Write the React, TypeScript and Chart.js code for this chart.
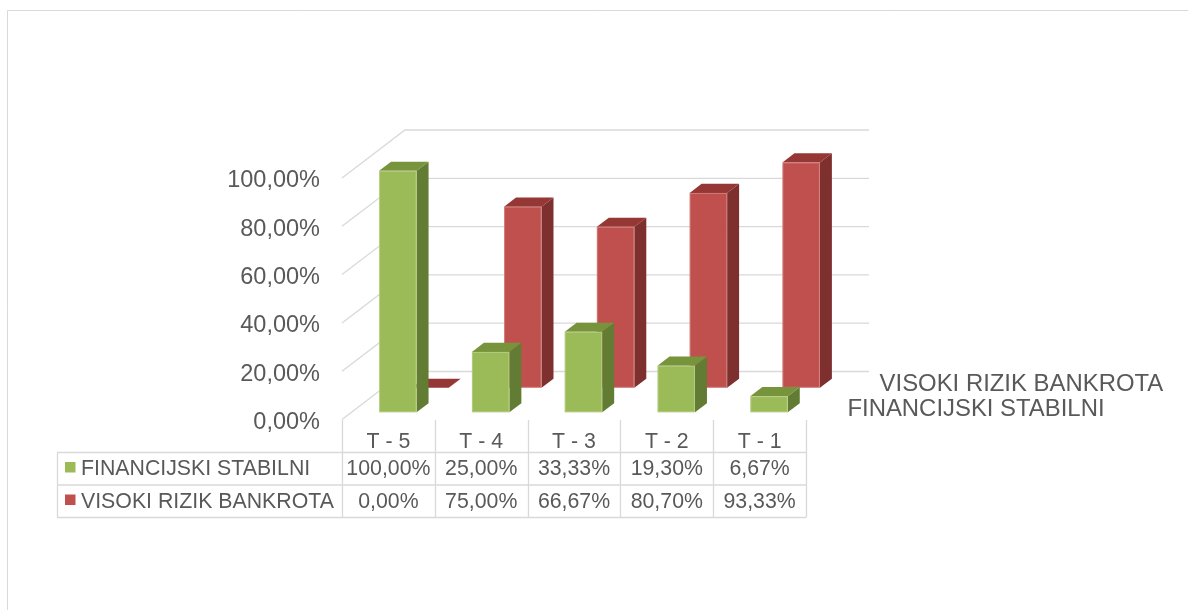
import React, { useEffect, useRef } from 'react';
import { Chart, registerables } from 'chart.js';

Chart.register(...registerables);

// ---- data ----
const categories = ['T - 5', 'T - 4', 'T - 3', 'T - 2', 'T - 1'];
const financijskiStabilni = [100, 25, 33.33, 19.3, 6.67];
const visokiRizikBankrota = [0, 75, 66.67, 80.7, 93.33];
const seriesNames = ['FINANCIJSKI STABILNI', 'VISOKI RIZIK BANKROTA'];
const yTickValues = [0, 20, 40, 60, 80, 100];

const FONT = "'Liberation Sans', Arial, sans-serif";
const TEXT = '#595959';
const GRID = '#d9d9d9';

const fmt = (v: number) => v.toFixed(2).replace('.', ',') + '%';

// 3D look
const DEPTH_X = 63;
const DEPTH_Y = -48;
const SERIES_DEPTH = [0.15, 0.66]; // front-face depth fraction per series
const BAR_DEPTH = 0.19;
const BAR_WIDTH_RATIO = 0.404;

const COLORS = [
  { front: '#9bbb59', top: '#77933c', side: '#637c33', key: '#9bbb59' },
  { front: '#c0504d', top: '#953735', side: '#7d302e', key: '#c0504d' },
];

function drawBar(ctx: CanvasRenderingContext2D, x0: number, x1: number, yTop: number, yBase: number, bdx: number, bdy: number, c: any) {
  ctx.fillStyle = c.side;
  ctx.beginPath();
  ctx.moveTo(x1, yTop);
  ctx.lineTo(x1 + bdx, yTop + bdy);
  ctx.lineTo(x1 + bdx, yBase + bdy);
  ctx.lineTo(x1, yBase);
  ctx.closePath();
  ctx.fill();

  ctx.fillStyle = c.top;
  ctx.beginPath();
  ctx.moveTo(x0, yTop);
  ctx.lineTo(x1, yTop);
  ctx.lineTo(x1 + bdx, yTop + bdy);
  ctx.lineTo(x0 + bdx, yTop + bdy);
  ctx.closePath();
  ctx.fill();

  if (yBase - yTop > 0) {
    ctx.fillStyle = c.front;
    ctx.fillRect(x0, yTop, x1 - x0, yBase - yTop);
    ctx.strokeStyle = 'rgba(255,255,255,0.25)';
    ctx.lineWidth = 1;
    ctx.strokeRect(x0 + 0.5, yTop + 0.5, x1 - x0 - 1, yBase - yTop - 1);
  }
}

const threeDPlugin = {
  id: 'threeD',
  beforeDraw(chart: any) {
    const ctx = chart.ctx as CanvasRenderingContext2D;
    ctx.save();
    ctx.fillStyle = '#ffffff';
    ctx.fillRect(0, 0, chart.width, chart.height);
    ctx.strokeStyle = GRID;
    ctx.lineWidth = 1;
    ctx.beginPath();
    ctx.moveTo(7.5, chart.height);
    ctx.lineTo(7.5, 10.5);
    ctx.lineTo(chart.width, 10.5);
    ctx.stroke();
    ctx.restore();
  },
  beforeDatasetsDraw(chart: any) {
    const ctx = chart.ctx as CanvasRenderingContext2D;
    const y = chart.scales.y;
    const { left, right } = chart.chartArea;
    ctx.save();
    ctx.strokeStyle = GRID;
    ctx.lineWidth = 1.3;
    y.ticks.forEach((t: any) => {
      const yf = y.getPixelForValue(t.value);
      ctx.beginPath();
      ctx.moveTo(left, yf);
      ctx.lineTo(left + DEPTH_X, yf + DEPTH_Y);
      ctx.lineTo(right + DEPTH_X, yf + DEPTH_Y);
      ctx.stroke();
    });
    ctx.restore();
  },
  afterDatasetsDraw(chart: any) {
    const ctx = chart.ctx as CanvasRenderingContext2D;
    const xs = chart.scales.x;
    const ys = chart.scales.y;
    const { left, right } = chart.chartArea;
    const n = chart.data.labels.length;
    const colW = (right - left) / n;
    const barW = colW * BAR_WIDTH_RATIO;
    const bdx = DEPTH_X * BAR_DEPTH;
    const bdy = DEPTH_Y * BAR_DEPTH;
    const y0 = ys.getPixelForValue(0);

    ctx.save();
    // back series first, then front series
    [1, 0].forEach((di) => {
      const ds = chart.data.datasets[di];
      const ox = DEPTH_X * SERIES_DEPTH[di];
      const oy = DEPTH_Y * SERIES_DEPTH[di];
      ds.data.forEach((v: number, i: number) => {
        const cx = xs.getPixelForValue(i) + ox;
        const yTop = ys.getPixelForValue(v) + oy;
        const yBase = y0 + oy;
        drawBar(ctx, cx - barW / 2, cx + barW / 2, yTop, yBase, bdx, bdy, COLORS[di]);
      });
    });

    // ---- data table ----
    const tableLeft = 57;
    const headTop = y0 + 0.5;
    const rowH = 32.5;
    const r1 = 452.5;
    const r2 = r1 + rowH;
    const r3 = r2 + rowH;
    ctx.strokeStyle = GRID;
    ctx.lineWidth = 1.3;
    ctx.beginPath();
    for (let k = 0; k <= n; k++) {
      const xb = Math.round(left + k * colW) + 0.5;
      ctx.moveTo(xb, headTop);
      ctx.lineTo(xb, r3);
    }
    [r1, r2, r3].forEach((yy) => {
      ctx.moveTo(tableLeft, yy);
      ctx.lineTo(right, yy);
    });
    ctx.moveTo(tableLeft + 0.5, r1);
    ctx.lineTo(tableLeft + 0.5, r3);
    ctx.stroke();

    const tFont = 21.3;
    ctx.fillStyle = TEXT;
    ctx.font = `${tFont}px ${FONT}`;
    ctx.textBaseline = 'alphabetic';
    const capOff = tFont * 0.358;
    ctx.textAlign = 'center';
    chart.data.labels.forEach((lab: string, i: number) => {
      const cx = xs.getPixelForValue(i);
      ctx.fillText(lab, cx, 440 + capOff);
    });
    const rowCenters = [467.5, 500];
    [0, 1].forEach((di) => {
      const ds = chart.data.datasets[di];
      ctx.textAlign = 'center';
      ctx.fillStyle = TEXT;
      ds.data.forEach((v: number, i: number) => {
        ctx.fillText(fmt(v), xs.getPixelForValue(i), rowCenters[di] + capOff);
      });
      ctx.fillStyle = COLORS[di].key;
      ctx.fillRect(65, rowCenters[di] - 5.5, 10.5, 10.5);
      ctx.fillStyle = TEXT;
      ctx.textAlign = 'left';
      ctx.fillText(ds.label, 81, rowCenters[di] + capOff);
    });

    // ---- depth-axis labels on the right ----
    const lFont = 23.9;
    ctx.font = `${lFont}px ${FONT}`;
    ctx.textAlign = 'left';
    ctx.fillStyle = TEXT;
    [1, 0].forEach((di) => {
      const ox = DEPTH_X * SERIES_DEPTH[di];
      const oy = DEPTH_Y * SERIES_DEPTH[di];
      ctx.fillText(chart.data.datasets[di].label, right + ox + 32, y0 + oy - 5 + lFont * 0.358);
    });
    ctx.restore();
  },
};

export default function App() {
  const ref = useRef<HTMLCanvasElement | null>(null);
  useEffect(() => {
    document.body.style.margin = '0';
    document.body.style.overflow = 'hidden';
    const canvas = ref.current;
    if (!canvas) return;
    const chart = new Chart(canvas, {
      type: 'bar',
      data: {
        labels: categories,
        datasets: [
          { label: seriesNames[0], data: financijskiStabilni, backgroundColor: 'rgba(0,0,0,0)', borderWidth: 0 },
          { label: seriesNames[1], data: visokiRizikBankrota, backgroundColor: 'rgba(0,0,0,0)', borderWidth: 0 },
        ],
      },
      options: {
        responsive: false,
        animation: false,
        devicePixelRatio: 1,
        layout: { padding: { left: 0, right: 382, top: 178, bottom: 190.5 } },
        plugins: {
          legend: { display: false },
          tooltip: { enabled: false },
          title: { display: false },
        },
        scales: {
          x: { display: false, offset: true },
          y: {
            min: 0,
            max: 100,
            afterFit: (s: any) => {
              s.width = 342;
            },
            afterBuildTicks: (s: any) => {
              s.ticks = yTickValues.map((v) => ({ value: v }));
            },
            grid: { display: false, drawTicks: false },
            border: { display: false },
            ticks: {
              padding: 22,
              labelOffset: 3,
              color: TEXT,
              font: { size: 23.5, family: FONT },
              callback: (v: any) => fmt(Number(v)),
            },
          },
        },
      } as any,
      plugins: [threeDPlugin],
    });
    return () => chart.destroy();
  }, []);
  return <canvas ref={ref} width={1188} height={610} style={{ display: 'block' }} />;
}
